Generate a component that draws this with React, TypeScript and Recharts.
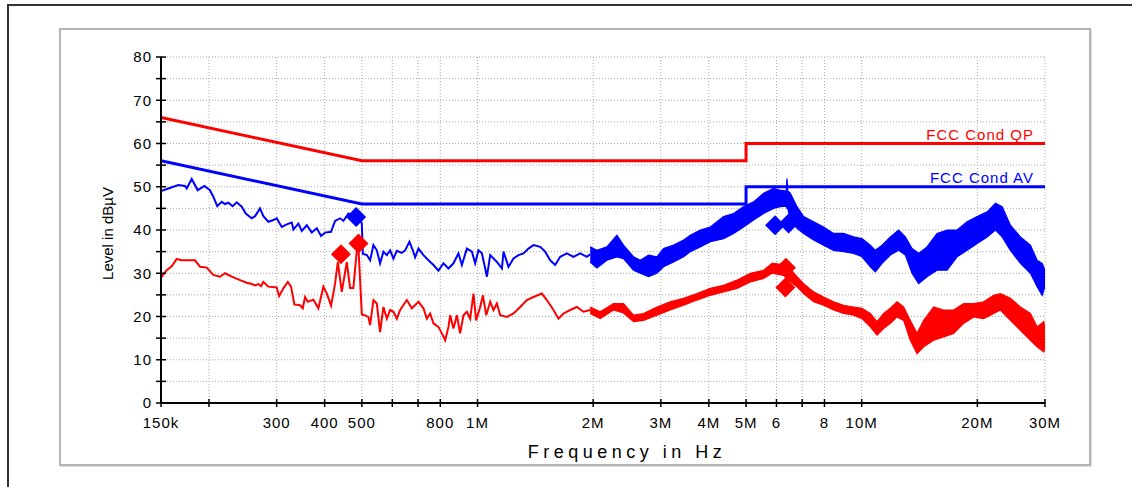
import React from 'react';
import { ComposedChart, XAxis, YAxis, CartesianGrid, Line, Area, Label } from 'recharts';

const FONT = '"Liberation Sans", Arial, Helvetica, sans-serif';
const RED = '#ff0000';
const BLUE = '#0000ff';

// ---- limit lines (frequency in kHz, level in dBµV)
const limitFreqK = [150, 500, 5000, 5000, 30000];
const qpLevel = [66, 56, 56, 60, 60];
const avLevel = [56, 46, 46, 50, 50];

// ---- blue trace, low band as a line
const blueLineF = [150, 156.7, 166.4, 173.2, 175, 180.3, 186.9, 194.5, 201.2, 205.2, 210.2, 215.8, 220.2, 224.6, 230.5, 236.1, 243.4, 249.3, 258.4, 263.6, 271.6, 277, 285.5, 294.1, 300.2, 309.3, 318.7, 328.5, 331.6, 341.7, 348.8, 359.4, 370.3, 381.6, 391.6, 401.1, 415.7, 425.8, 438.8, 447.6, 461.2, 480.1, 494.7, 499.8, 502.8, 515, 525.3, 535.8, 546.8, 557.7, 568.9, 580.7, 592.3, 604, 616.5, 635.3, 648, 664.9, 678.7, 688.1, 701.9, 723.2, 745.2, 767.8, 791.1, 815.3, 840.1, 865.7, 892, 910.4, 938.1, 966.7, 986, 1005.7, 1026.6, 1047.1, 1057.8, 1079, 1123.1, 1157.3, 1168.5, 1204, 1240.6, 1278.3, 1317.2, 1357.2, 1398.5, 1455.8, 1500, 1545.6, 1592.6, 1641.2, 1708.4, 1777.4, 1850.1, 1926.2, 1964.7];
const blueLineV = [49.0, 49.6, 50.4, 50.2, 49.6, 51.8, 49.2, 50.2, 49.2, 47.7, 45.5, 46.5, 46, 46.3, 45.5, 46.4, 45.4, 43.8, 42.7, 43.2, 45, 43.2, 41.9, 42.3, 42.7, 40.7, 41.3, 41.7, 40.1, 41.5, 39.8, 41.1, 39.4, 40.4, 38.6, 39.4, 39.6, 42.1, 42.7, 42.1, 43.8, 43.1, 42.4, 41.5, 34.5, 34.2, 33, 36.5, 35.3, 32.3, 35, 34.2, 35.3, 33.4, 35.2, 34.7, 35.3, 37.3, 35.3, 33.7, 35.7, 34.2, 33, 31.9, 30.6, 32.3, 31.1, 32.3, 34.6, 31.9, 35.7, 35, 32.3, 35.3, 34.6, 31.1, 29.2, 34.2, 32.6, 31.1, 35, 31.5, 33.4, 34.2, 34.6, 35.7, 36.5, 36.1, 35, 33, 31.9, 33.8, 34.6, 33.8, 34.6, 33.8, 34.4];

// ---- blue trace, dense part as a min/max band
const blueBandF = [1964.7, 2045, 2171.4, 2305.6, 2398.5, 2547.5, 2652.5, 2787.5, 2930.7, 3049.5, 3238.7, 3439.5, 3579.6, 3800.3, 4035.6, 4370.1, 4640.4, 4927.1, 5230.7, 5554.1, 5897.8, 6139.4, 6360, 6391.6, 6420, 6518, 6786, 7060, 7496, 7958, 8449, 8971, 9526, 10017, 10532, 10852, 11297, 11873, 12480, 12990, 13521, 14067, 14793, 15707, 16680, 17713, 18811, 19976, 21213, 22293, 23209, 24381, 25891, 27486, 28617, 29494, 30000];
const blueBandLo = [32.6, 31.2, 33, 33.8, 33.4, 30.7, 30, 29.2, 30, 31.5, 32.6, 33.8, 35, 36.1, 37.3, 38, 39.2, 40.7, 42.3, 43.8, 45, 45.4, 45.5, 45, 45, 42.3, 40.4, 39.2, 37.7, 36.5, 35.3, 35, 34.6, 33.8, 31.5, 30.3, 32.3, 34.2, 35.3, 34.2, 30, 27.6, 29.2, 30.7, 30.7, 33.8, 35.3, 36.9, 38.4, 40, 38.4, 35.3, 32.3, 30, 26.9, 24.9, 26.9];
const blueBandHi = [36.1, 35.3, 36.1, 38.8, 36.5, 33.8, 33, 34.2, 33.8, 35.7, 36.5, 37.7, 38.8, 40, 40.7, 43.1, 43.8, 45.4, 46.5, 48.5, 49.6, 49.2, 49, 51.9, 49, 48.5, 45.4, 43.1, 41.9, 40.7, 39.2, 39.2, 38.4, 38, 36.5, 35.3, 36.5, 38.4, 40, 38.4, 35.7, 34.6, 36.1, 39.2, 40, 40, 41.9, 43.1, 44.2, 46.2, 45.4, 41.1, 38.4, 36.5, 33, 32.3, 30.7];

// ---- red trace, low band as a line
const redLineF = [150, 155.2, 159.9, 164.8, 169.8, 183.9, 189.6, 197.3, 205.2, 213.6, 220.2, 229.2, 240.9, 250.8, 258.4, 263.6, 268.8, 273.2, 277, 285.5, 300.2, 304.4, 312.3, 320.7, 327.1, 333.6, 345.2, 350.8, 355.7, 361.5, 373.9, 385.3, 397, 405.2, 415.7, 425.8, 432.8, 443.3, 456.8, 465.9, 475.2, 485, 489.7, 499.8, 507.6, 519.9, 525.3, 535.8, 546.8, 557.7, 568.9, 580.7, 592.3, 604, 616.5, 628.9, 654.6, 674.5, 701.9, 723.2, 738, 752.7, 767.8, 791.1, 807.5, 823.6, 840.1, 848.7, 865.7, 883.6, 901, 919.1, 938.1, 956.9, 976.1, 991.9, 1016, 1032.7, 1053.4, 1079, 1100.6, 1123.1, 1145.6, 1192.7, 1240.6, 1291.3, 1344.1, 1398.5, 1470.6, 1515.3, 1576.5, 1624.5, 1674, 1742.6, 1814.1, 1887.2, 1964.7];
const redLineV = [29.0, 30.7, 31.6, 33.3, 33.0, 33, 31.5, 31.3, 29.6, 29.2, 30, 29.2, 28.4, 27.8, 27.5, 27.2, 27.5, 27, 28, 26.9, 26.7, 24.7, 26.5, 28, 26.9, 22.8, 22.6, 21.9, 24.5, 23.4, 23.9, 21.9, 26.9, 25.3, 22.5, 27.6, 32.6, 25.7, 32.6, 26.6, 26.6, 35.3, 36.1, 20.5, 20.3, 19.9, 18, 23.8, 23, 16.4, 22.2, 19.5, 21.5, 21.1, 19.5, 21.5, 23.8, 21.9, 23.4, 21.9, 19.5, 20.7, 18.4, 17.6, 16.1, 14.5, 17.6, 20.3, 17.2, 20.3, 16.1, 20.3, 21.1, 19.5, 25.3, 19.1, 22.2, 24.9, 20.3, 23.4, 21.5, 23, 20.3, 19.9, 20.7, 22.2, 23.8, 24.5, 25.3, 23.8, 21.5, 19.5, 20.7, 21.5, 22.2, 21.1, 21.5];

// ---- red trace, dense part as a min/max band
const redBandF = [1964.7, 2086, 2259, 2398.5, 2547.5, 2705, 2930.7, 3174, 3439.5, 3726, 4035.6, 4370.1, 4734, 5130, 5554.1, 5843, 6261, 6518, 6786, 7060, 7496, 7958, 8449, 8971, 9526, 10017, 10532, 10963, 11405, 11873, 12359, 12859, 13384, 13935, 14498, 15391, 16338, 17352, 18421, 19562, 20771, 22058, 22971, 24381, 25891, 27486, 28617, 29783, 30000];
const redBandLo = [20.7, 19.5, 21.5, 20.8, 18.8, 19.1, 20.3, 21.5, 22.6, 23.8, 24.9, 25.7, 26.5, 28, 28.8, 30, 29.5, 28, 26.9, 25.3, 23.4, 22.6, 21.5, 20.7, 20.3, 19.5, 17.6, 15.7, 17.2, 18.4, 19.9, 19.1, 14.5, 11.4, 13, 14.5, 15.3, 16.1, 18.4, 19.9, 19.5, 20.7, 21.5, 19.1, 16.8, 14.5, 13, 11.8, 13];
const redBandHi = [22.2, 21.1, 23, 23, 20.3, 20.7, 22.2, 23.4, 24.2, 25.3, 26.5, 27.2, 28.4, 30, 30.7, 32.3, 32, 31, 29.2, 27.6, 25.7, 24.5, 23.4, 22.6, 22.2, 21.9, 20.7, 18.8, 20.7, 21.9, 23.4, 22.2, 19.1, 16.1, 19.1, 22.2, 21.5, 21.5, 23, 23, 23.4, 24.9, 25.3, 24.2, 22.2, 20.7, 17.6, 18.8, 17];

// ---- final measurement markers
const blueMarkF = [483, 5950, 6450];
const blueMarkV = [43, 41.1, 41.5];
const redMarkF = [441, 490, 6350, 6330];
const redMarkV = [34.4, 36.9, 31.3, 26.7];

// ---- axes
const xTicksK = [150, 200, 300, 400, 500, 600, 700, 800, 1000, 2000, 3000, 4000, 5000, 6000, 7000, 8000, 10000, 20000, 30000];
const xTickLabels = ['150k', '', '300', '400', '500', '', '', '800', '1M', '2M', '3M', '4M', '5M', '6', '', '8', '10M', '20M', '30M'];
const yTicks = [0, 5, 10, 15, 20, 25, 30, 35, 40, 45, 50, 55, 60, 65, 70, 75, 80];
const yTickLabels = ['0', '', '10', '', '20', '', '30', '', '40', '', '50', '', '60', '', '70', '', '80'];

const xTicksHz = xTicksK.map((k) => k * 1000);
const toPoints = (fk: number[], v: number[]) => fk.map((f, i) => ({ f: f * 1000, v: v[i] }));
const toBand = (fk: number[], lo: number[], hi: number[]) => fk.map((f, i) => ({ f: f * 1000, r: [lo[i], hi[i]] }));

const qpData = toPoints(limitFreqK, qpLevel);
const avData = toPoints(limitFreqK, avLevel);
const blueLine = toPoints(blueLineF, blueLineV);
const redLine = toPoints(redLineF, redLineV);
const blueBand = toBand(blueBandF, blueBandLo, blueBandHi);
const redBand = toBand(redBandF, redBandLo, redBandHi);
const blueMarks = toPoints(blueMarkF, blueMarkV);
const redMarks = toPoints(redMarkF, redMarkV);

const XTick = (props: any) => {
  const { x, y, payload } = props;
  const i = xTicksHz.indexOf(payload.value);
  const label = i >= 0 ? xTickLabels[i] : '';
  return (
    <g>
      <line x1={x} x2={x} y1={y - 4} y2={y + 4} stroke="#000" strokeWidth={1.5} />
      {label ? (
        <text x={x} y={y + 20} dy="0.36em" textAnchor="middle" fontSize={15} fill="#000" fontFamily={FONT} style={{ letterSpacing: 1 }}>
          {label}
        </text>
      ) : null}
    </g>
  );
};

const YTick = (props: any) => {
  const { x, y, payload } = props;
  const i = yTicks.indexOf(payload.value);
  const label = i >= 0 ? yTickLabels[i] : '';
  return (
    <g>
      <line x1={x - 5} x2={x + 5} y1={y} y2={y} stroke="#000" strokeWidth={1.5} />
      {label ? (
        <text x={x - 9} y={y} dy="0.36em" textAnchor="end" fontSize={15} fill="#000" fontFamily={FONT} style={{ letterSpacing: 1 }}>
          {label}
        </text>
      ) : null}
    </g>
  );
};

const XLabel = (props: any) => {
  const vb = props.viewBox;
  return (
    <text x={vb.x + vb.width / 2 + 24} y={vb.y + 49} dy="0.36em" textAnchor="middle" fontSize={18} fill="#000" fontFamily={FONT} style={{ letterSpacing: 4.5 }}>
      Frequency in Hz
    </text>
  );
};

const YLabel = (props: any) => {
  const vb = props.viewBox;
  const x = vb.x + vb.width - 53;
  const y = vb.y + vb.height / 2 + 3.5;
  return (
    <text x={x} y={y} dy="0.36em" textAnchor="middle" fontSize={15} fill="#000" fontFamily={FONT} transform={`rotate(-90, ${x}, ${y})`}>
      Level in dBµV
    </text>
  );
};

const makeLimitLabel = (text: string, color: string, n: number) => (props: any) => {
  const { x, y, index } = props;
  if (index !== n - 1) return null;
  return (
    <text key="lbl" x={x - 11} y={y - 9} dy="0.36em" textAnchor="end" fontSize={15} fill={color} fontFamily={FONT} style={{ letterSpacing: 1 }}>
      {text}
    </text>
  );
};

const makeDiamond = (color: string) => (props: any) => {
  const { cx, cy, index } = props;
  if (cx == null || cy == null) return <g key={`n${index}`} />;
  const r = 10;
  return <polygon key={`d${index}`} points={`${cx},${cy - r} ${cx + r},${cy} ${cx},${cy + r} ${cx - r},${cy}`} fill={color} />;
};

export default function App() {
  return (
    <div style={{ position: 'absolute', left: 0, top: 0, width: 1132, height: 487, overflow: 'hidden', background: '#fff' }}>
      <div style={{ position: 'absolute', left: 7, top: 4, width: 2000, height: 2000, border: '2px solid #333' }} />
      <div
        style={{
          position: 'absolute',
          left: 59,
          top: 28,
          width: 1032,
          height: 438,
          boxSizing: 'border-box',
          border: '2px solid #b4b4b4',
          boxShadow: '1px 1px 0 #e0e0e0',
          background: '#fff',
        }}
      />
      <div style={{ position: 'absolute', left: 0, top: 0 }}>
        <ComposedChart width={1132} height={487} margin={{ top: 57, right: 87, bottom: 0, left: 0 }}>
          <CartesianGrid stroke="#a8a8a8" strokeDasharray="1 2" strokeWidth={1} />
          <XAxis
            dataKey="f"
            type="number"
            scale="log"
            domain={[150000, 30000000]}
            allowDataOverflow
            ticks={xTicksHz}
            interval={0}
            tick={<XTick />}
            tickLine={false}
            tickSize={0}
            tickMargin={0}
            axisLine={{ stroke: '#000', strokeWidth: 2 }}
            height={84}
          >
            <Label content={XLabel} />
          </XAxis>
          <YAxis
            type="number"
            domain={[0, 80]}
            allowDataOverflow
            ticks={yTicks}
            interval={0}
            tick={<YTick />}
            tickLine={false}
            tickSize={0}
            tickMargin={0}
            axisLine={{ stroke: '#000', strokeWidth: 2 }}
            width={161}
          >
            <Label content={YLabel} />
          </YAxis>
          <Area data={redBand} dataKey="r" type="linear" stroke={RED} strokeWidth={1.2} fill={RED} fillOpacity={1} dot={false} activeDot={false} isAnimationActive={false} />
          <Area data={blueBand} dataKey="r" type="linear" stroke={BLUE} strokeWidth={1.2} fill={BLUE} fillOpacity={1} dot={false} activeDot={false} isAnimationActive={false} />
          <Line data={redLine} dataKey="v" type="linear" stroke={RED} strokeWidth={2} dot={false} activeDot={false} isAnimationActive={false} />
          <Line data={blueLine} dataKey="v" type="linear" stroke={BLUE} strokeWidth={2} dot={false} activeDot={false} isAnimationActive={false} />
          <Line data={qpData} dataKey="v" type="linear" stroke={RED} strokeWidth={3} dot={false} activeDot={false} isAnimationActive={false} label={makeLimitLabel('FCC Cond QP', RED, qpData.length)} />
          <Line data={avData} dataKey="v" type="linear" stroke={BLUE} strokeWidth={3} dot={false} activeDot={false} isAnimationActive={false} label={makeLimitLabel('FCC Cond AV', BLUE, avData.length)} />
          <Line data={blueMarks} dataKey="v" type="linear" stroke="none" strokeWidth={0} dot={makeDiamond(BLUE)} activeDot={false} isAnimationActive={false} />
          <Line data={redMarks} dataKey="v" type="linear" stroke="none" strokeWidth={0} dot={makeDiamond(RED)} activeDot={false} isAnimationActive={false} />
        </ComposedChart>
      </div>
    </div>
  );
}
